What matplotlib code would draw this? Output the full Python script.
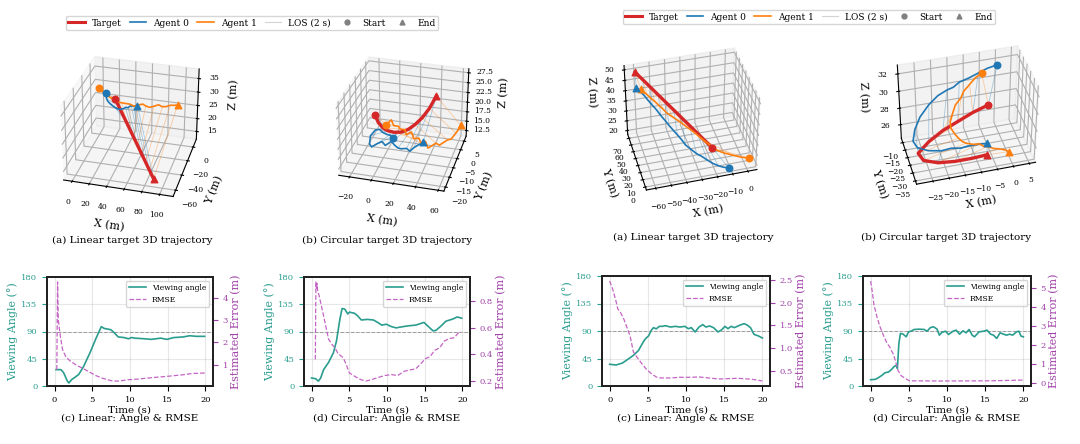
import matplotlib
matplotlib.use("Agg")
import matplotlib.pyplot as plt
from matplotlib.lines import Line2D

plt.rcParams["font.family"] = "DejaVu Serif"

# ---------------- 3D trajectories (target every 2 s, agents every 1 s) ----------------
# left figure, linear target
lin1_tgt_x = [20, 27, 34, 41, 48, 55, 62, 69, 76, 83, 90]
lin1_tgt_y = [0, -6, -12, -18, -24, -30, -36, -42, -48, -54, -60]
lin1_tgt_z = [26.5, 25.35, 24.2, 23.05, 21.9, 20.75, 19.6, 18.45, 17.3, 16.15, 15]
lin1_a0_x = [7, 7, 8, 10, 13, 16, 20, 24, 27, 30, 32, 34, 36, 37, 39, 40, 42, 43, 44, 46, 47]
lin1_a0_y = [5, 4, 3, 2, 1, 0, -1, -1, 0, 1, 1, 0, -1, 0, 1, 1, 0, 0, 1, 1, 0]
lin1_a0_z = [27, 26.2, 25.4, 24.7, 24.2, 23.9, 23.5, 23, 22.8, 23, 23.5, 23.8, 24, 24.2, 24.5, 24.3, 24.6, 24.8, 24.5, 24.8, 25]
lin1_a1_x = [-2, 3, 8, 13, 18, 23, 28, 33, 38, 43, 48, 53, 57, 62, 67, 72, 77, 82, 86, 91, 95]
lin1_a1_y = [5, 4, 3, 2, 1, 0, 0, 1, 0, -1, 0, 1, 0, -1, 0, 1, 0, 0, 1, 0, 0]
lin1_a1_z = [28.5, 27.6, 26.8, 26.3, 26, 25.5, 25.3, 25, 25.2, 24.9, 25.3, 25.6, 25.3, 25.2, 25.6, 26.1, 25.8, 26.1, 26.5, 26.9, 27.2]

# left figure, circular target
cir1_tgt_x = [-17, -11, -5, 1, 8, 14.5, 21, 26.5, 32, 37, 41]
cir1_tgt_y = [0, -3, -5, -6.5, -7.5, -8, -7.5, -6.5, -5, -3, 0]
cir1_tgt_z = [17, 16.6, 16.4, 16.5, 16.8, 17.3, 18, 19, 20.3, 22, 24]
cir1_a0_x = [5, 1, -3, -7, -11, -15, -18, -16, -12, -8, -4, 0, 4, 8, 12, 16, 20, 24, 27, 30, 34]
cir1_a0_y = [-5, -4, -3, -3, -2, -2, -4, -7, -9, -8, -7, -8, -6, -7, -8, -9, -8, -9, -8, -7, -6]
cir1_a0_z = [14, 14.2, 13.8, 14.2, 14.4, 14.1, 13.3, 12.6, 12.9, 13.4, 13.7, 13.3, 13.6, 13.2, 13.1, 13.5, 13.3, 13.2, 13.8, 14.1, 14.5]
cir1_a1_x = [-8, -4, 0, 4, 7, 11, 14, 18, 22, 26, 30, 33, 37, 40, 43, 47, 53, 57, 60, 62, 63]
cir1_a1_y = [2, 3, 1, 2, 0, 1, -1, 0, -2, -1, -3, -2, -4, -3, -2, -3, -1, -2, 0, 1, 2]
cir1_a1_z = [14, 15, 14.5, 14, 14.3, 13.8, 13.5, 13.9, 13.2, 13, 12.6, 12.9, 12.2, 12.5, 12.8, 12.9, 13.6, 14.4, 15.2, 15.9, 16.5]

# right figure, linear target
lin2_tgt_x = [-20, -24, -28, -32, -36, -40, -44, -48, -52, -56, -60]
lin2_tgt_y = [15, 20.5, 26, 31.5, 37, 42.5, 48, 53.5, 59, 64.5, 70]
lin2_tgt_z = [26, 28.4, 30.8, 33.2, 35.6, 38, 40.4, 42.8, 45.2, 47.6, 50]
lin2_a0_x = [-12, -15, -18, -21, -24, -27, -30, -33, -36, -38, -40, -42, -44, -46, -48, -50, -52, -54, -56, -58, -60]
lin2_a0_y = [0, 2, 4, 7, 10, 13, 16, 19, 23, 27, 30, 34, 38, 42, 46, 50, 54, 58, 62, 65, 68]
lin2_a0_z = [20, 20, 20.5, 21, 22, 23.2, 24, 25.5, 26.8, 28.5, 30, 31.2, 32.5, 34, 35.3, 37, 38.2, 39.5, 41, 42, 43]
lin2_a1_x = [3, -2, -7, -12, -17, -20, -23, -26, -29, -32, -35, -38, -41, -44, -46, -48, -50, -52, -54, -56, -57]
lin2_a1_y = [8, 10, 12, 14, 16, 19, 22, 25, 29, 32, 36, 39, 42, 45, 49, 52, 56, 59, 63, 66, 68]
lin2_a1_z = [20, 20.5, 21.5, 22.5, 24, 25.5, 27, 28.5, 30, 31.3, 32.5, 33.8, 35, 36.2, 37.2, 38.2, 39.1, 40, 40.8, 41.5, 42]

# right figure, circular target
cir2_tgt_x = [-3, -8, -13, -18, -23, -27, -26, -22, -17, -12, -7]
cir2_tgt_y = [-12, -12.5, -13.5, -15, -18, -22, -26, -29, -30.5, -31, -31]
cir2_tgt_z = [27.5, 27, 26.4, 25.9, 25.4, 25, 24.8, 24.8, 24.9, 25, 25.1]
cir2_a0_x = [0, -3, -6, -9, -12, -14, -16, -19, -22, -25, -27, -28, -27, -24, -20, -17, -14, -12, -10, -8, -6]
cir2_a0_y = [-10, -10, -10.5, -11, -11, -12, -12, -13, -14, -15, -17, -19, -21, -23, -24, -24, -24, -25, -24, -25, -25]
cir2_a0_z = [31.7, 31.5, 31.2, 30.9, 30.6, 30.3, 30.1, 29.8, 29.1, 28, 27, 26, 25.5, 25.3, 25.2, 25.3, 25.1, 25.4, 25.2, 25.4, 25.3]
cir2_a1_x = [-5, -7, -9, -11, -12, -14, -15, -16, -16, -15, -14, -13, -12, -10, -8, -7, -6, -4, -3, -1, 0]
cir2_a1_y = [-11, -11, -12, -13, -14, -15, -16, -17, -18, -19, -20, -21, -22, -23, -24, -25, -26, -27, -28, -29, -30]
cir2_a1_z = [31.2, 30.8, 30.3, 29.8, 29.3, 28.7, 28, 27.2, 26.6, 26, 25.6, 25.3, 25.2, 25.1, 25.2, 25, 25.1, 24.9, 25, 24.9, 24.8]

# ---------------- viewing angle / RMSE ----------------
lin1_t_ang = [0.2, 0.85, 1.2, 1.7, 1.9, 2.26, 2.77, 3.2, 3.84, 4.7, 5.54, 6.2, 6.6, 7.46, 7.9, 8.44, 9.2, 9.8, 10.2,
              10.66, 11.9, 12.8, 14.07, 14.9, 15.8, 17.06, 17.9, 18.8, 19.9]
lin1_ang = [27, 27, 22, 8, 5, 10.5, 15, 19, 32, 55, 80, 98, 95, 93, 88, 81, 80, 78, 80,
            79, 78, 77, 79, 77, 80, 81, 83, 82, 82]
lin1_t_err = [0.3, 0.4, 0.5, 0.77, 1.06, 1.5, 2.13, 3.0, 3.84, 4.7, 5.5, 6.4, 7.7, 8.5, 9.8, 11.1, 12.8, 14.9, 17.0, 18.3, 19.9]
lin1_err = [0.77, 4.7, 3.0, 2.27, 1.67, 1.34, 1.14, 0.95, 0.81, 0.65, 0.5, 0.38, 0.26, 0.26, 0.32, 0.35, 0.41, 0.47, 0.54, 0.6, 0.62]

cir1_t_ang = [0.0, 0.55, 0.9, 1.2, 1.6, 2.26, 2.9, 3.3, 3.75, 4.05, 4.4, 4.8, 5.03, 5.7, 6.1, 6.6, 7.4, 8.2, 8.9, 9.3,
              9.9, 10.6, 11.2, 12.1, 12.9, 13.8, 14.4, 14.9, 15.5, 16.1, 16.5, 17.2, 17.8, 18.7, 19.3, 19.9]
cir1_ang = [13.3, 12, 8, 13, 27, 39, 55, 74, 110, 128, 127, 119, 122, 120, 116, 109, 110, 109, 104, 100.5,
            102, 98, 96, 98, 99.5, 100.5, 103, 105, 98, 91, 92, 99.5, 107, 110.5, 114, 112]
cir1_t_err = [0.5, 0.58, 0.65, 0.72, 0.8, 1.0, 1.4, 1.83, 2.26, 2.7, 3.1, 3.5, 4.2, 4.6, 5.0, 5.7, 6.5, 7.2, 8.0, 8.9,
              9.7, 10.6, 11.4, 12.3, 12.9, 13.8, 14.4, 15.05, 15.7, 16.3, 17.0, 17.6, 18.25, 18.9, 19.3, 19.7]
cir1_err = [0.363, 0.94, 0.89, 0.93, 0.88, 0.838, 0.738, 0.625, 0.513, 0.475, 0.45, 0.408, 0.375, 0.325, 0.263, 0.238,
            0.213, 0.202, 0.213, 0.23, 0.243, 0.25, 0.243, 0.275, 0.283, 0.293, 0.325, 0.368, 0.383, 0.43, 0.45, 0.5,
            0.518, 0.525, 0.55, 0.575]

lin2_t_ang = [0.0, 0.84, 1.68, 2.5, 3.1, 3.77, 4.4, 4.7, 5.1, 5.45, 5.74, 6.1, 6.5, 6.9, 7.3, 7.97, 8.6, 9.2, 9.85,
              10.3, 10.7, 11.2, 11.7, 12.2, 12.6, 13.1, 13.6, 14.2, 14.7, 15.1, 15.5, 15.9, 16.35, 17.0, 17.6, 18.0,
              18.45, 18.9, 19.5, 20.0]
lin2_ang = [35.5, 34.4, 37.6, 44.7, 50, 58, 72, 77.5, 82, 91, 95.5, 93.5, 97.6, 97.6, 98.7, 96.5, 97.6, 96.5, 97.6,
            93.8, 95.5, 88.4, 96.5, 100.4, 96.5, 98.2, 95.5, 88.4, 92.2, 97.6, 93.8, 97.6, 95.5, 99.3, 102, 99.8,
            95.5, 84.5, 81.8, 78.5]
lin2_t_err = [0.0, 0.42, 0.84, 1.05, 1.47, 1.9, 2.3, 2.7, 3.1, 3.56, 4.2, 4.8, 5.45, 6.1, 6.7, 8.0, 9.2, 10.5, 11.7,
              13.0, 14.25, 15.5, 16.8, 18.0, 18.9, 20.0]
lin2_err = [2.48, 2.29, 2.03, 1.87, 1.77, 1.62, 1.44, 1.25, 0.915, 0.8, 0.656, 0.53, 0.433, 0.357, 0.335, 0.335, 0.35,
            0.35, 0.357, 0.335, 0.313, 0.32, 0.328, 0.313, 0.3, 0.268]

cir2_t_ang = [0.0, 0.64, 1.06, 1.48, 1.9, 2.33, 2.75, 3.05, 3.4, 3.5, 3.7, 3.9, 4.24, 4.66, 4.96, 5.3, 5.7, 6.36, 7.0,
              7.4, 7.84, 8.26, 8.7, 9.0, 9.3, 9.8, 10.2, 10.8, 11.2, 11.65, 12.1, 12.5, 12.9, 13.3, 13.6, 14.2, 14.8,
              15.25, 15.7, 16.1, 16.5, 16.95, 17.4, 17.8, 18.2, 18.6, 19.1, 19.4, 19.7, 20.0]
cir2_ang = [10.3, 10.9, 14, 17.4, 21.8, 22.8, 27.2, 31.5, 34.3, 28.8, 69.6, 86, 85, 80.5, 88.6, 89.7, 92.5, 93, 92.5,
            89.7, 95.7, 96.8, 93, 83.2, 87.5, 89.7, 84.3, 89.7, 91.4, 84.8, 90.3, 87, 92.5, 83.2, 80.5, 88.6, 89.7,
            91.4, 84.8, 83.2, 77.8, 87, 84.8, 83.2, 84.8, 83.2, 88.6, 89.7, 81.6, 80.5]
cir2_t_err = [0.0, 0.2, 0.42, 0.85, 1.27, 1.7, 2.1, 2.54, 2.97, 3.3, 3.6, 4.0, 4.66, 5.1, 9.3, 15.7, 20.0]
cir2_err = [5.35, 4.83, 4.13, 3.43, 2.9, 2.47, 2.12, 1.85, 1.5, 1.07, 0.63, 0.37, 0.19, 0.1, 0.09, 0.1, 0.14]

C_TGT = "#d62728"
C_A0 = "#1f77b4"
C_A1 = "#ff7f0e"
C_ANG = "#2a9d8f"
C_ERR = "#c464c4"
C_ERR_TXT = "#a040a8"

W, H = 1080, 444
fig = plt.figure(figsize=(W / 100, H / 100), dpi=100)


def rect(x0, y0, w, h):
    return [x0 / W, 1 - (y0 + h) / H, w / W, h / H]


def draw_3d(pos, tgt, a0, a1, lims, ticks, view, box, caption, cap_xy):
    ax = fig.add_axes(rect(*pos), projection="3d")
    for (xs, ys, zs), col in ((a0, C_A0), (a1, C_A1)):
        for i in range(0, len(xs), 2):
            k = i // 2
            ax.plot([xs[i], tgt[0][k]], [ys[i], tgt[1][k]], [zs[i], tgt[2][k]],
                    color=col, lw=0.6, alpha=0.35)
    ax.plot(*tgt, color=C_TGT, lw=2.4)
    ax.plot(*a0, color=C_A0, lw=1.2)
    ax.plot(*a1, color=C_A1, lw=1.2)
    for (xs, ys, zs), col in ((tgt, C_TGT), (a0, C_A0), (a1, C_A1)):
        ax.scatter([xs[0]], [ys[0]], [zs[0]], color=col, marker="o", s=22, depthshade=False)
        ax.scatter([xs[-1]], [ys[-1]], [zs[-1]], color=col, marker="^", s=22, depthshade=False)
    ax.set_xlim(*lims[0])
    ax.set_ylim(*lims[1])
    ax.set_zlim(*lims[2])
    ax.set_xticks(ticks[0])
    ax.set_yticks(ticks[1])
    ax.set_zticks(ticks[2])
    ax.view_init(elev=view[0], azim=view[1])
    ax.set_box_aspect(box[0], zoom=box[1])
    ax.tick_params(labelsize=5.5, pad=0)
    ax.set_xlabel("X (m)", fontsize=8, labelpad=-3)
    ax.set_ylabel("Y (m)", fontsize=8, labelpad=-3)
    ax.set_zlabel("Z (m)", fontsize=8, labelpad=-2)
    fig.text(cap_xy[0] / W, 1 - cap_xy[1] / H, caption, ha="center", va="center", fontsize=7.5)
    return ax


def draw_angle(pos, t_ang, ang, t_err, err, err_ticks, caption):
    ax = fig.add_axes(rect(*pos))
    ax2 = ax.twinx()
    ax.axhline(90, color="gray", lw=0.7, ls="--", alpha=0.7)
    l1, = ax.plot(t_ang, ang, color=C_ANG, lw=1.2, label="Viewing angle")
    l2, = ax2.plot(t_err, err, color=C_ERR, lw=0.9, ls="--", label="RMSE")
    ax.set_ylim(0, 180)
    ax.set_yticks([0, 45, 90, 135, 180])
    ax.set_xlim(-1, 21)
    ax.set_xticks([0, 5, 10, 15, 20])
    ax2.set_yticks(err_ticks)
    ax.grid(True, alpha=0.3)
    ax.tick_params(axis="y", colors=C_ANG, labelsize=6)
    ax.tick_params(axis="x", labelsize=6)
    ax2.tick_params(axis="y", colors=C_ERR_TXT, labelsize=6)
    ax.set_ylabel("Viewing Angle (°)", color=C_ANG, fontsize=8, labelpad=2)
    ax2.set_ylabel("Estimated Error (m)", color=C_ERR_TXT, fontsize=8, labelpad=2)
    ax.set_xlabel("Time (s)\n" + caption, fontsize=7.5, labelpad=1, linespacing=1.0)
    for a in (ax, ax2):
        for s in a.spines.values():
            s.set_linewidth(1.4)
            s.set_color("#222222")
    ax.legend(handles=[l1, l2], loc="upper right", fontsize=5.5, framealpha=0.8, handlelength=2.2)
    return ax


legend_handles = [
    Line2D([], [], color=C_TGT, lw=2.2, label="Target"),
    Line2D([], [], color=C_A0, lw=1.2, label="Agent 0"),
    Line2D([], [], color=C_A1, lw=1.2, label="Agent 1"),
    Line2D([], [], color="lightgray", lw=0.8, label="LOS (2 s)"),
    Line2D([], [], color="gray", marker="o", ls="none", ms=3.5, label="Start"),
    Line2D([], [], color="gray", marker="^", ls="none", ms=3.5, label="End"),
]
legend_kw = dict(loc="center", ncol=6, fontsize=6.5, handlelength=1.8, columnspacing=0.9, borderpad=0.3)

# left figure
draw_3d((44, 40, 172, 172),
        (lin1_tgt_x, lin1_tgt_y, lin1_tgt_z), (lin1_a0_x, lin1_a0_y, lin1_a0_z), (lin1_a1_x, lin1_a1_y, lin1_a1_z),
        ((-10, 115), (-68, 12), (12, 38.5)),
        ([0, 20, 40, 60, 80, 100], [-60, -40, -20, 0], [15, 20, 25, 30, 35]),
        (30, -75), ((4, 4, 3), 1.0), "(a) Linear target 3D trajectory", (132, 240))
draw_3d((320, 41, 165, 165),
        (cir1_tgt_x, cir1_tgt_y, cir1_tgt_z), (cir1_a0_x, cir1_a0_y, cir1_a0_z), (cir1_a1_x, cir1_a1_y, cir1_a1_z),
        ((-30, 65), (-22, 8), (11, 28.5)),
        ([-20, 0, 20, 40, 60], [-20, -15, -10, -5, 0, 5], [12.5, 15.0, 17.5, 20.0, 22.5, 25.0, 27.5]),
        (30, -75), ((4, 4, 3), 1.0), "(b) Circular target 3D trajectory", (387, 240))
draw_angle((47, 277, 166, 109), lin1_t_ang, lin1_ang, lin1_t_err, lin1_err, [1, 2, 3, 4],
           "(c) Linear: Angle & RMSE")
draw_angle((304, 277, 166, 109), cir1_t_ang, cir1_ang, cir1_t_err, cir1_err, [0.2, 0.4, 0.6, 0.8],
           "(d) Circular: Angle & RMSE")
fig.legend(handles=legend_handles, bbox_to_anchor=(252 / W, 1 - 23 / H), **legend_kw)

# right figure
draw_3d((595, 27, 187, 187),
        (lin2_tgt_x, lin2_tgt_y, lin2_tgt_z), (lin2_a0_x, lin2_a0_y, lin2_a0_z), (lin2_a1_x, lin2_a1_y, lin2_a1_z),
        ((-66, 6), (-4, 76), (18, 52)),
        ([-60, -50, -40, -30, -20, -10, 0], [0, 10, 20, 30, 40, 50, 60, 70], [20, 25, 30, 35, 40, 45, 50]),
        (40, -105), ((3.8, 2.88, 3.0), 0.88), "(a) Linear target 3D trajectory", (693, 237))
draw_3d((870, 22, 190, 190),
        (cir2_tgt_x, cir2_tgt_y, cir2_tgt_z), (cir2_a0_x, cir2_a0_y, cir2_a0_z), (cir2_a1_x, cir2_a1_y, cir2_a1_z),
        ((-30, 7), (-37, -7), (24.3, 33)),
        ([-25, -20, -15, -10, -5, 0, 5], [-35, -30, -25, -20, -15, -10], [26, 28, 30, 32]),
        (40, -105), ((4.03, 2.32, 3.12), 0.88), "(b) Circular target 3D trajectory", (946, 237))
draw_angle((602, 276, 168, 110), lin2_t_ang, lin2_ang, lin2_t_err, lin2_err, [0.5, 1.0, 1.5, 2.0, 2.5],
           "(c) Linear: Angle & RMSE")
draw_angle((863, 276, 168, 110), cir2_t_ang, cir2_ang, cir2_t_err, cir2_err, [0, 1, 2, 3, 4, 5],
           "(d) Circular: Angle & RMSE")
fig.legend(handles=legend_handles, bbox_to_anchor=(809 / W, 1 - 17 / H), **legend_kw)

fig.savefig("out.png", dpi=100)
